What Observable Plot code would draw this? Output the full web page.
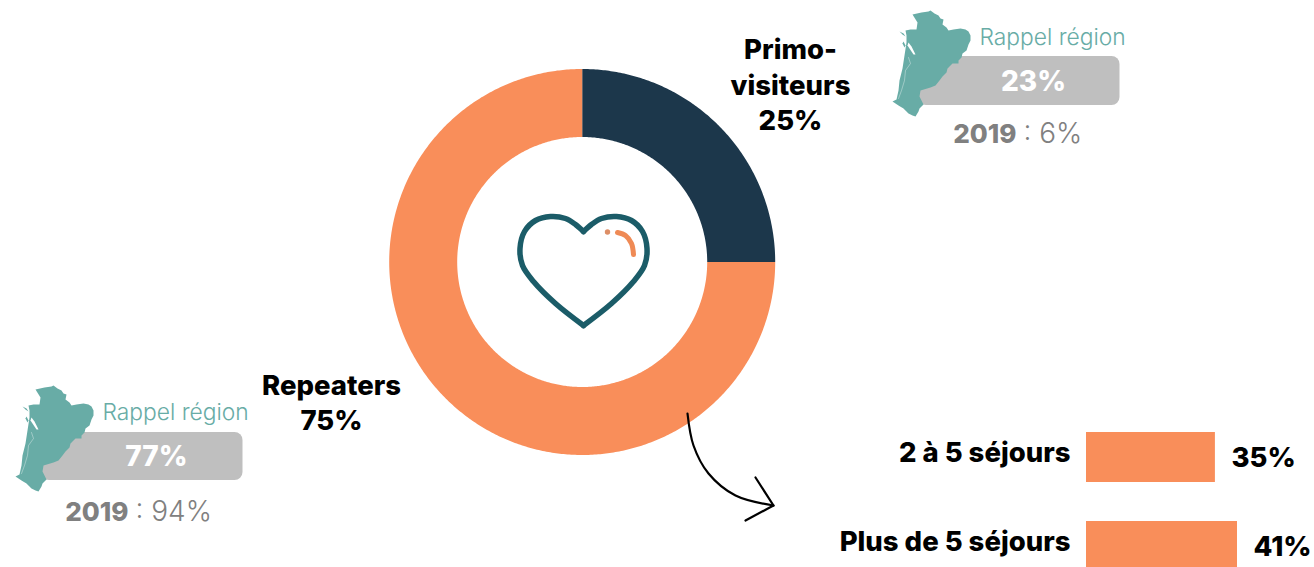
<!DOCTYPE html>
<html lang="fr">
<head>
<meta charset="utf-8">
<script src="https://cdn.jsdelivr.net/npm/d3@7"></script>
<script src="https://cdn.jsdelivr.net/npm/@observablehq/plot@0.6"></script>
<style>
html,body{margin:0;padding:0;background:#fff;overflow:hidden;width:1314px;height:567px}
#wrap{position:relative;width:1314px;height:567px}
#wrap svg{position:absolute;left:0;top:0;background:transparent}
</style>
</head>
<body>
<div id="wrap"></div>
<script>
// Values
const segmentNames = ["Primo-visiteurs", "Repeaters"];
const segmentShares = [25, 75];
const segmentColors = ["#1c374b", "#f98e5a"];
const segmentLabels = ["Primo-\nvisiteurs\n25%", "Repeaters\n75%"];
const regionShares = ["23%", "77%"];
const region2019 = [": 6%", ": 94%"];
const stayCategories = ["2 à 5 séjours", "Plus de 5 séjours"];
const stayShares = [35, 41];

// Layout
const W = 1314, H = 567;
const boldFont = "Inter, Roboto, sans-serif";
const lightFont = "Inter, 'Noto Sans', sans-serif";
const cx = 581.7, cy = 261.5, outerR = 193, innerR = 125;
const teal = "#68aca6", grey = "#bfbfbf", darkGrey = "#808080";

// Donut rings computed from the shares
const total = d3.sum(segmentShares);
let cum = 0;
const ring = [];
segmentNames.forEach((name, i) => {
  const a0 = cum / total * 2 * Math.PI;
  cum += segmentShares[i];
  const a1 = cum / total * 2 * Math.PI;
  const n = Math.ceil((a1 - a0) / 0.01);
  const at = (r, a) => ({name, x: cx + r * Math.sin(a), y: cy - r * Math.cos(a)});
  for (let k = 0; k <= n; k++) ring.push(at(outerR, a0 + (a1 - a0) * k / n));
  for (let k = n; k >= 0; k--) ring.push(at(innerR, a0 + (a1 - a0) * k / n));
});

// Region silhouette, traced in the top-right placement
const mapOutline = [[912,14],[921,12],[928,11],[930,10],[934,13],[938,15],[940,18],[943,19],[942,24],[946,27],[948,30],[953,29],[960,28],[965,29],[968,31],[970,35],[970,40],[968,44],[966,50],[962,53],[961,57],[958,60],[958,63],[952,63],[950,65],[947,68],[946,72],[942,76],[939,80],[935,85],[930,87],[920,90],[919,96],[921,100],[923,104],[919,108],[918,111],[915,116],[912,115],[908,113],[903,108],[898,105],[892,101],[896,99],[898,90],[899,80],[902,68],[904,55],[906,42],[906,35],[905,30],[910,29],[916,29],[917,22]];
const mapRiver = [[908,57],[910,63],[905,70],[904,80],[901,90],[898,98]];
const mapOffsets = [[0, 0], [-877, 375]];
const polygons = [];
const estuaries = [];
const islands = [];
const rivers = [];
mapOffsets.forEach(([dx, dy], g) => {
  mapOutline.forEach(([x, y]) => polygons.push({g, x: x + dx, y: y + dy}));
  mapRiver.forEach(([x, y]) => rivers.push({g, x: x + dx, y: y + dy}));
  [[908,42],[911,46],[915,54],[913,54],[909,48],[907,45]].forEach(([x, y]) => estuaries.push({g, x: x + dx, y: y + dy}));
  [[899,31],[903,33],[905,36],[902,34]].forEach(([x, y]) => islands.push({g, s: "a", x: x + dx, y: y + dy}));
  [[903,41],[905,45],[904,47],[902,43]].forEach(([x, y]) => islands.push({g, s: "b", x: x + dx, y: y + dy}));
});

// Heart icon
const heart = [
  ["L",583,231],["L",575,224],["L",565,218],["L",550,216],["L",535,220],["L",524,231],["L",519.5,248],["L",522,265],["L",533,281],["L",555,303],["L",583,325],
  ["R",583,231],["R",591,224],["R",601,218],["R",616,216],["R",631,220],["R",642,231],["R",646.5,248],["R",644,265],["R",633,281],["R",611,303],["R",583,325]
].map(([side, x, y]) => ({side, x, y}));
const gleam = [[617,232],[625,235],[631,243],[633,254]].map(([x, y]) => ({x, y}));

// Arrow
const arrowCurve = [[687,413],[693,445],[708,473],[735,495],[773,505]].map(([x, y]) => ({x, y}));
const arrowHead = [[755,477],[773,505],[745,520]].map(([x, y]) => ({x, y}));

const badges = [
  {x1: 918, x2: 1119.5, y1: 56, y2: 105, tx: 1033, ty: 82, ry: 37, rt: 979, y19: 134, x19: 1016, xv: 1023, value: regionShares[0], v19: region2019[0]},
  {x1: 41, x2: 242.5, y1: 432, y2: 480, tx: 156, ty: 457, ry: 412.5, rt: 102, y19: 512, x19: 128, xv: 135, value: regionShares[1], v19: region2019[1]}
];

const labels = [
  {text: segmentLabels[0], x: 790, y: 83},
  {text: segmentLabels[1], x: 331, y: 400.5}
];

const bars = stayCategories.map((category, i) => ({category, share: stayShares[i]}));

const barPlot = Plot.plot({
  width: W, height: H, margin: 0,
  style: {background: "transparent"},
  x: {domain: [0, 41], range: [1086, 1237], axis: null},
  y: {type: "band", domain: stayCategories, range: [432, 571], padding: 0, paddingInner: 39 / 89, paddingOuter: 0, axis: null},
  marks: [
    Plot.barX(bars, {x: "share", y: "category", fill: segmentColors[1]}),
    Plot.text(bars, {x: () => 0, y: "category", text: "category", textAnchor: "end", dx: -16, dy: -4,
      fontFamily: boldFont, fontWeight: 800, fontSize: 27.5, fill: "#000"}),
    Plot.text(bars, {x: "share", y: "category", text: d => d.share + "%", textAnchor: "start", dx: 16, dy: 1,
      fontFamily: boldFont, fontWeight: 800, fontSize: 27.5, fill: "#000"})
  ]
});

const mainPlot = Plot.plot({
  width: W, height: H, margin: 0,
  style: {background: "transparent"},
  x: {domain: [0, W], range: [0, W], axis: null},
  y: {domain: [0, H], range: [0, H], axis: null},
  color: {domain: segmentNames, range: segmentColors},
  marks: [
    Plot.line(ring, {x: "x", y: "y", z: "name", fill: "name", stroke: null, curve: "linear-closed"}),
    Plot.text(labels, {x: "x", y: "y", text: "text", lineHeight: 1.29, fontFamily: boldFont, fontWeight: 800, fontSize: 27.5, fill: "#000"}),
    Plot.line(heart, {x: "x", y: "y", z: "side", curve: "catmull-rom", stroke: "#1b5c68", strokeWidth: 5.5}),
    Plot.line(gleam, {x: "x", y: "y", curve: "catmull-rom", stroke: "#ef8a55", strokeWidth: 5}),
    Plot.dot([{x: 607, y: 231.5}], {x: "x", y: "y", r: 2.7, fill: "#dd8e66"}),
    Plot.line(arrowCurve, {x: "x", y: "y", curve: "catmull-rom", stroke: "#000", strokeWidth: 2.2}),
    Plot.line(arrowHead, {x: "x", y: "y", stroke: "#000", strokeWidth: 2.2}),
    Plot.rect(badges, {x1: "x1", x2: "x2", y1: "y1", y2: "y2", fill: grey, rx: 8}),
    Plot.line(polygons, {x: "x", y: "y", z: "g", fill: teal, stroke: null, curve: "linear-closed"}),
    Plot.line(estuaries, {x: "x", y: "y", z: "g", fill: "#fff", stroke: null, curve: "linear-closed"}),
    Plot.line(islands, {x: "x", y: "y", z: d => d.g + d.s, fill: teal, stroke: null, curve: "linear-closed"}),
    Plot.line(rivers, {x: "x", y: "y", z: "g", stroke: "#fff", strokeOpacity: 0.45, strokeWidth: 0.8}),
    Plot.text(badges, {x: "tx", y: "ty", text: "value", fontFamily: boldFont, fontWeight: 800, fontSize: 28, fill: "#fff"}),
    Plot.text(badges, {x: "rt", y: "ry", text: () => "Rappel région", textAnchor: "start", fontFamily: lightFont, fontWeight: 300, fontSize: 22.8, fill: teal}),
    Plot.text(badges, {x: "x19", y: "y19", text: () => "2019", textAnchor: "end", fontFamily: boldFont, fontWeight: 800, fontSize: 26, fill: darkGrey}),
    Plot.text(badges, {x: "xv", y: "y19", text: "v19", textAnchor: "start", fontFamily: lightFont, fontWeight: 300, fontSize: 28, fill: darkGrey})
  ]
});

document.getElementById("wrap").append(barPlot, mainPlot);
</script>
</body>
</html>
